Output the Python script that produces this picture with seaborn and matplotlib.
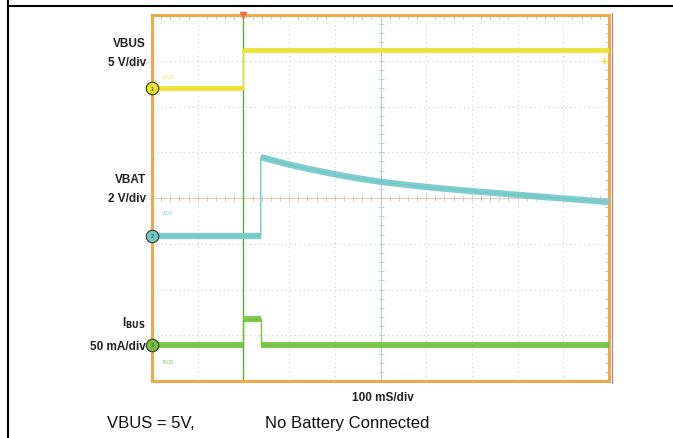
import numpy as np
import pandas as pd
import matplotlib.pyplot as plt
import seaborn as sns
from matplotlib.lines import Line2D

sns.set_style("white")
plt.rcParams['font.family'] = ['Liberation Sans', 'DejaVu Sans']

# scope traces (time in ms, values in volts / mA)
vbus_t = [0, 200, 200, 1000]
vbus_v = [0, 0, 4.2, 4.2]

vbat_t = [0, 238, 238, 260, 300, 350, 400, 450, 500, 550, 600, 700, 800, 900, 1000]
vbat_v = [0, 0, 3.45, 3.33, 3.12, 2.90, 2.70, 2.52, 2.37, 2.25, 2.14, 1.96, 1.80, 1.64, 1.48]

ibus_t = [0, 200, 200, 238, 238, 1000]
ibus_ma = [0, 0, 28, 28, 0, 0]

# channel settings: ground position (div), scale per div, colour, band width
channels = [
    ("VBUS", vbus_t, vbus_v, 6.40, 5.0, "#ece22c", 3.6, "1"),
    ("VBAT", vbat_t, vbat_v, 3.17, 2.0, "#72c8c8", 4.6, "2"),
    ("IBUS", ibus_t, ibus_ma, 0.79, 50.0, "#72c23e", 4.4, "3"),
]

fig = plt.figure(figsize=(6.73, 4.39), dpi=100)
ax = fig.add_axes([152/673, 1-382/439, 457/673, 366/439])

ax.set_xlim(0, 1000)
ax.set_ylim(0, 8)
ax.set_xticks(np.arange(0, 1001, 100))
ax.set_yticks(np.arange(0, 9, 1))
ax.set_xticks(np.arange(0, 1001, 20), minor=True)
ax.set_yticks(np.arange(0, 8.01, 0.2), minor=True)
ax.set_xticklabels([])
ax.set_yticklabels([])
ax.tick_params(which='both', direction='in', top=True, right=True,
               color='#b8c8d0', width=0.7)
ax.tick_params(which='major', length=0)
ax.tick_params(which='minor', length=3)
ax.grid(True, which='major', linestyle=(0, (1, 3)), color='#c4d4dc', lw=0.8)
for s in ax.spines.values():
    s.set_color('#f0a848')
    s.set_linewidth(2.2)

# center crosshair with small ticks
ax.axhline(4, color='#ecc8bc', lw=0.8, zorder=1)
ax.axvline(500, color='#b8ccd8', lw=0.8, zorder=1)
xt = np.arange(0, 1001, 20)
ax.plot(xt, np.full(len(xt), 4), ls='none', marker='|', ms=4, color='#c8c8c8', mew=0.6)
yt = np.arange(0, 8.01, 0.2)
ax.plot(np.full(len(yt), 500), yt, ls='none', marker='_', ms=4, color='#b8ccd8', mew=0.6)

# trigger line
ax.axvline(200, color='#52b432', lw=1.0, zorder=2)
ax.plot([200], [8], marker='v', ms=4, color='#f07048', clip_on=False, zorder=6)

for name, t, v, off, scale, col, lw, num in channels:
    df = pd.DataFrame({"t": t, "div": off + np.array(v) / scale})
    # thin trace including vertical edges
    sns.lineplot(data=df, x="t", y="div", estimator=None, sort=False,
                 color=col, lw=1.0, ax=ax, zorder=3)
    # thick noisy band on the flat parts
    start = 0
    for i in range(1, len(t) + 1):
        if i == len(t) or t[i] == t[i-1]:
            seg = df.iloc[start:i]
            if len(seg) > 1:
                sns.lineplot(data=seg, x="t", y="div", estimator=None, sort=False,
                             color=col, lw=lw, alpha=0.9, ax=ax, zorder=3,
                             solid_capstyle='butt', solid_joinstyle='round')
            start = i
    # ground marker
    ax.plot([0], [off], marker='o', ms=9, mfc=col, mec='#3a3a20', mew=0.8,
            clip_on=False, zorder=7)
    ax.text(0, off, num, fontsize=4, ha='center', va='center', color='#303020',
            zorder=8, clip_on=False)

ax.set_xlabel("")
ax.set_ylabel("")

# tiny channel names
ax.text(22, 6.62, "VBUS", fontsize=3.5, color='#e8dc60')
ax.text(22, 3.65, "VBAT", fontsize=3.5, color='#90d0d0')
ax.text(22, 0.4, "IBUS", fontsize=3.5, color='#80c860')
ax.plot([990], [7.0], marker='+', ms=4, color='#ece22c', clip_on=False)

# right edge extra line
fig.add_artist(Line2D([612/673, 612/673], [1-384/439, 1-14/439], color='#a09890', lw=1.0))

# border lines
fig.add_artist(Line2D([8/673, 1], [1-7/439, 1-7/439], color='black', lw=1.5))
fig.add_artist(Line2D([8/673, 8/673], [0, 1], color='black', lw=1.5))

# channel labels
fig.text(146/673, 1-44/439, "VBUS", fontsize=8.5, fontweight='bold', ha='right', va='center', color='#222222')
fig.text(146/673, 1-63/439, "5 V/div", fontsize=8.5, fontweight='bold', ha='right', va='center', color='#222222')
fig.text(146/673, 1-180/439, "VBAT", fontsize=8.5, fontweight='bold', ha='right', va='center', color='#222222')
fig.text(146/673, 1-199/439, "2 V/div", fontsize=8.5, fontweight='bold', ha='right', va='center', color='#222222')
fig.text(146/673, 1-323/439, r"I$_{\mathbf{BUS}}$", fontsize=8.5, fontweight='bold', ha='right', va='center', color='#222222')
fig.text(146/673, 1-347/439, "50 mA/div", fontsize=8.5, fontweight='bold', ha='right', va='center', color='#222222')
fig.text(383/673, 1-398/439, "100 mS/div", fontsize=8.5, fontweight='bold', ha='center', va='center', color='#222222')

fig.text(107/673, 1-424/439, "VBUS = 5V,", fontsize=12, ha='left', va='center', color='#111111')
fig.text(265/673, 1-424/439, "No Battery Connected", fontsize=12, ha='left', va='center', color='#111111')

fig.savefig("out.png", dpi=100)
